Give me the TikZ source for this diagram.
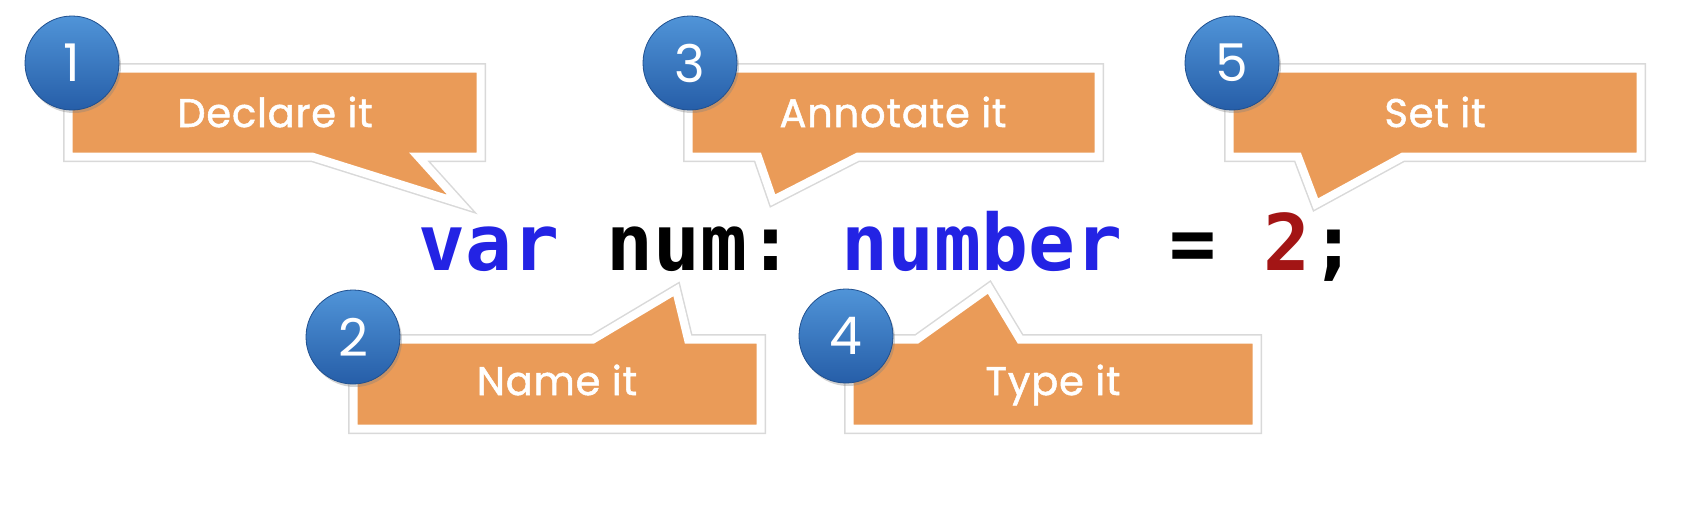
\documentclass[tikz,border=0pt]{standalone}
\usepackage{fontspec}
\setmonofont{DejaVu Sans Mono}
\newfontfamily\calloutfont[LetterSpace=2,FakeBold=1.3]{Poppins}
\newfontfamily\ballfont{Poppins}
\usetikzlibrary{shadows}
\definecolor{boxorange}{RGB}{234,155,88}
\definecolor{balltop}{RGB}{80,148,216}
\definecolor{ballbottom}{RGB}{38,94,168}
\definecolor{kwblue}{RGB}{35,35,228}
\definecolor{numred}{RGB}{163,21,21}

\begin{document}
\begin{tikzpicture}[x=0.5pt,y=-0.5pt,
  callout/.style={fill=boxorange, draw=white, line width=4pt, line join=miter,
    preaction={draw=black!15, line width=5.5pt}},
  badge/.style={circle, minimum size=47pt, inner sep=0pt, top color=balltop, bottom color=ballbottom,
    draw=ballbottom!85!black, line width=0.4pt,
    drop shadow={shadow xshift=1pt, shadow yshift=-1.5pt, opacity=0.35},
    text=white, font=\ballfont\fontsize{26}{26}\selectfont},
  saying/.style={text=white, anchor=base, inner sep=0pt, font=\calloutfont\fontsize{20}{20}\selectfont}]
\useasboundingbox[fill=white] (0,0) rectangle (1692,530);

% callouts above the line
\draw[callout] (68.5,68.5) -- (480.5,68.5) -- (480.5,156.5) -- (418,156.5) -- (460,203) -- (312,156.5) -- (68.5,156.5) -- cycle;
\draw[callout] (688.5,68.5) -- (1098.5,68.5) -- (1098.5,156.5) -- (858,156.5) -- (773,200) -- (758,156.5) -- (688.5,156.5) -- cycle;
\draw[callout] (1229.5,68.5) -- (1640.5,68.5) -- (1640.5,156.5) -- (1403,156.5) -- (1316,204) -- (1298,156.5) -- (1229.5,156.5) -- cycle;

% callouts below the line
\draw[callout] (353.5,339.5) -- (593,339.5) -- (676,290) -- (688,339.5) -- (760.5,339.5) -- (760.5,428.5) -- (353.5,428.5) -- cycle;
\draw[callout] (849.5,339.5) -- (917,339.5) -- (989,288) -- (1020,339.5) -- (1256.5,339.5) -- (1256.5,428.5) -- (849.5,428.5) -- cycle;

\node[saying] (say1) at (275,127) {Declare it};
\node[saying] (say2) at (557,395) {Name it};
\node[saying] (say3) at (893,127) {Annotate it};
\node[saying] (say4) at (1053,395) {Type it};
\node[saying] (say5) at (1435,127) {Set it};

\node[badge] (b1) at (72,63) {1};
\node[badge] (b2) at (353,337) {2};
\node[badge] (b3) at (690,63) {3};
\node[badge] (b4) at (846,336) {4};
\node[badge] (b5) at (1232,63) {5};

\node[anchor=base west, inner sep=0pt, font=\ttfamily\bfseries\fontsize{39}{47}\selectfont] (code) at (418,270)
  {\frenchspacing\textcolor{kwblue}{var} num: \textcolor{kwblue}{number} = \textcolor{numred}{2};};
\end{tikzpicture}
\end{document}
